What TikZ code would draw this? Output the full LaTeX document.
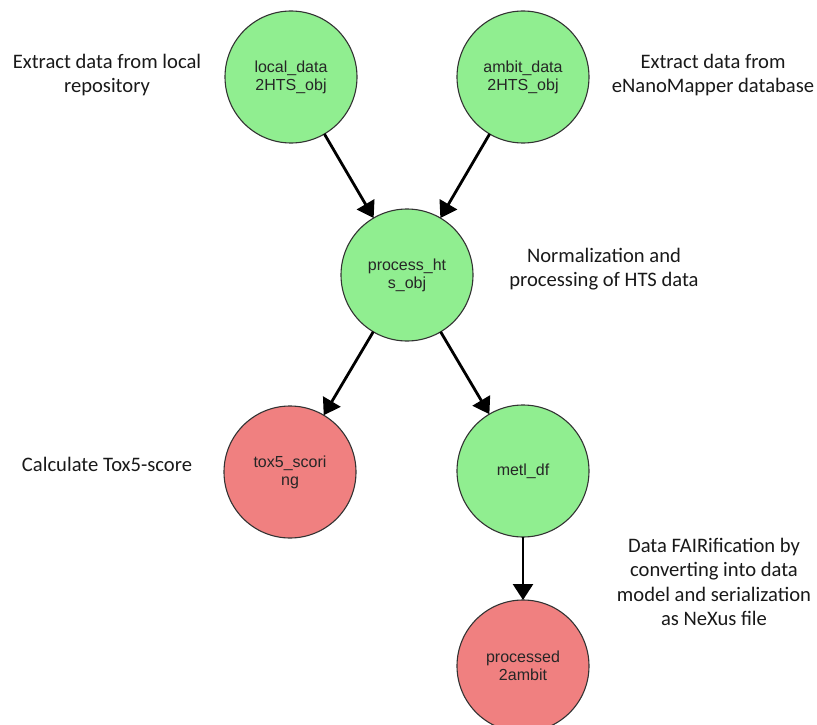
\documentclass[tikz,border=0pt]{standalone}
\usepackage{fontspec}
\setmainfont{Liberation Sans}
\newfontfamily\notefont{Carlito}
\usetikzlibrary{arrows.meta}
\definecolor{nodegreen}{HTML}{90EE90}
\definecolor{nodered}{HTML}{F08080}
\begin{document}
\begin{tikzpicture}[x=1pt,y=-1pt,
  stage/.style={circle, draw=black!80, line width=1.1pt, minimum size=132pt,
    inner sep=0pt, outer sep=0pt, align=center,
    font=\fontsize{16}{18}\selectfont, text=black!85},
  okstage/.style={stage, fill=nodegreen},
  endstage/.style={stage, fill=nodered},
  flow/.style={-{Triangle[length=16pt,width=20pt]}, line width=2.8pt, black},
  note/.style={align=center, font=\notefont\fontsize{20.6}{24.5}\selectfont, text=black!90}]
\useasboundingbox (0,0) rectangle (817,725);
\node[okstage] (local) at (291,77) {local\_data\\2HTS\_obj};
\node[okstage] (ambit) at (523,77) {ambit\_data\\2HTS\_obj};
\node[okstage] (proc) at (407,275) {process\_ht\\s\_obj};
\node[endstage] (tox) at (290,472) {tox5\_scori\\ng};
\node[okstage] (metl) at (523,471) {metl\_df};
\node[endstage] (out) at (523,666) {processed\\2ambit};
\draw[flow] (local) -- (proc);
\draw[flow] (ambit) -- (proc);
\draw[flow] (proc) -- (tox);
\draw[flow] (proc) -- (metl);
\draw[flow] (metl) -- (out);
\node[note] (n1) at (107,75) {Extract data from local\\repository};
\node[note] (n2) at (713,75) {Extract data from\\eNanoMapper database};
\node[note] (n3) at (604,269) {Normalization and\\processing of HTS data};
\node[note] (n4) at (107,464) {Calculate Tox5-score};
\node[note] (n5) at (714,582) {Data FAIRification by\\converting into data\\model and serialization\\as NeXus file};
\end{tikzpicture}
\end{document}
